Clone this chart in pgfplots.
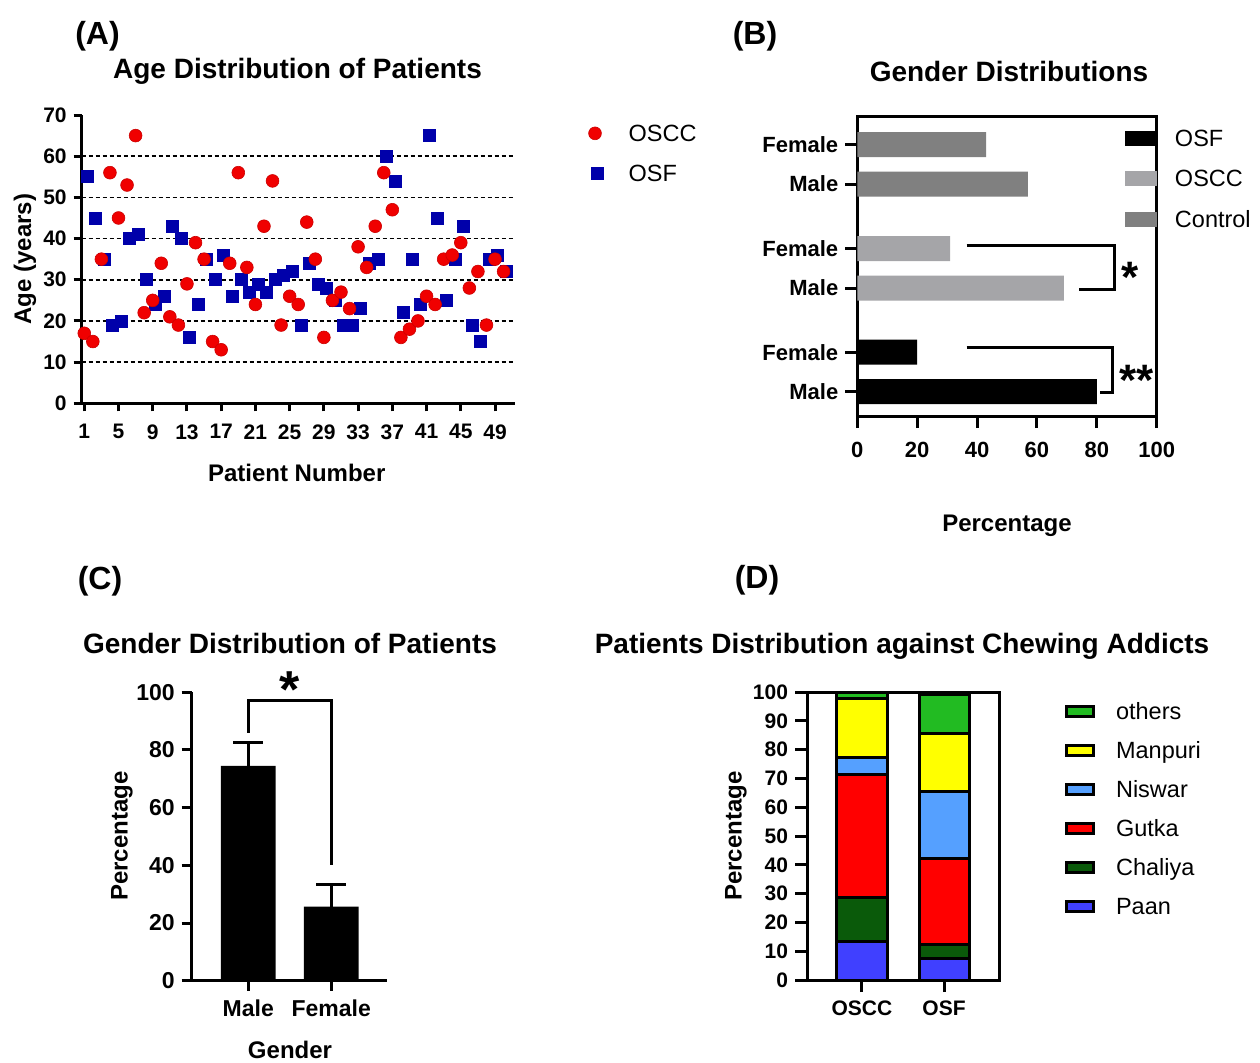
\documentclass[border=0pt]{standalone}
\usepackage{fontspec}
\setmainfont{Liberation Sans}
\usepackage{pgfplots}
\pgfplotsset{compat=1.18}

\definecolor{oscred}{RGB}{240,0,0}
\definecolor{osfblue}{RGB}{0,0,170}
\definecolor{gLight}{RGB}{165,165,168}
\definecolor{gDark}{RGB}{128,128,128}
\definecolor{paan}{RGB}{64,64,255}
\definecolor{chaliya}{RGB}{10,90,10}
\definecolor{gutka}{RGB}{255,0,0}
\definecolor{niswar}{RGB}{85,160,255}
\definecolor{manpuri}{RGB}{255,255,0}
\definecolor{others}{RGB}{34,187,34}

\newcommand{\tfont}{\fontsize{14}{16}\selectfont\bfseries}
\newcommand{\lfont}{\fontsize{12}{14}\selectfont\bfseries}
\newcommand{\pfont}{\fontsize{16}{18}\selectfont\bfseries}
\newcommand{\legfont}{\fontsize{11.75}{14}\selectfont}

\pgfplotsset{
  myaxis/.style={
    scale only axis, anchor=south west, clip=false,
    axis line style={line width=1.5pt, black},
    tick style={line width=1.5pt, black},
    tick align=outside,
    major tick length=5pt,
    minor tick num=0,
    /pgf/number format/assume math mode=true,
    tick label style={font=\fontsize{11}{13}\selectfont\bfseries, text=black},
    legend cell align=left,
  },
  myleg/.style={
    legend style={draw=none, fill=none, inner sep=0pt, outer sep=0pt,
      font=\legfont, row sep=#1,
      nodes={inner sep=0pt, text height=8.6pt, text depth=0.5pt, anchor=west}},
  }
}

\begin{document}
\begin{tikzpicture}
\useasboundingbox (0,0) rectangle (630pt,-531pt);

% ---------------- Panel A ----------------
\begin{axis}[myaxis, at={(40.85pt,-201.65pt)}, width=216.5pt, height=144.15pt,
  xmin=0.7, xmax=51.3, ymin=0, ymax=70,
  axis lines*=left,
  xtick={1,5,...,49}, ytick={0,10,...,70},
  major tick length=4pt,
  tick label style={font=\fontsize{10.5}{12}\selectfont\bfseries},
  xticklabel style={yshift=-3pt},
  extra y ticks={10,20,...,60}, extra y tick labels={},
  extra y tick style={ymajorgrids=true, major tick length=0pt,
     grid style={black, line width=0.8pt, dash pattern=on 2pt off 1.5pt}},
  myleg=10.9pt,
  legend style={at={(axis description cs:1.1707,0.968)}, anchor=north west, column sep=12.5pt},
  legend image code/.code={\draw[#1] plot coordinates {(3.2pt,0pt)};},
  reverse legend,
]
\addplot[only marks, mark=square*, mark size=3pt, xshift=1.3pt,
  mark options={fill=osfblue, draw=osfblue, line width=0.3pt}] coordinates {
(1,55)(2,45)(3,35)(4,19)(5,20)(6,40)(7,41)(8,30)(9,24)(10,26)(11,43)(12,40)(13,16)(14,24)(15,35)(16,30)(17,36)(18,26)(19,30)(20,27)(21,29)(22,27)(23,30)(24,31)(25,32)(26,19)(27,34)(28,29)(29,28)(30,25)(31,19)(32,19)(33,23)(34,34)(35,35)(36,60)(37,54)(38,22)(39,35)(40,24)(41,65)(42,45)(43,25)(44,35)(45,43)(46,19)(47,15)(48,35)(49,36)(50,32)};
\addlegendentry{OSF}
\addplot[only marks, mark=*, mark size=3.2pt,
  mark options={fill=oscred, draw=red!80!black, line width=0.3pt}] coordinates {
(1,17)(2,15)(3,35)(4,56)(5,45)(6,53)(7,65)(8,22)(9,25)(10,34)(11,21)(12,19)(13,29)(14,39)(15,35)(16,15)(17,13)(18,34)(19,56)(20,33)(21,24)(22,43)(23,54)(24,19)(25,26)(26,24)(27,44)(28,35)(29,16)(30,25)(31,27)(32,23)(33,38)(34,33)(35,43)(36,56)(37,47)(38,16)(39,18)(40,20)(41,26)(42,24)(43,35)(44,36)(45,39)(46,28)(47,32)(48,19)(49,35)(50,32)};
\addlegendentry{OSCC}
\end{axis}

% ---------------- Panel B ----------------
\begin{axis}[myaxis, at={(428.65pt,-208pt)}, width=149.7pt, height=149.65pt,
  xmin=0, xmax=100, ymin=-0.62, ymax=6.98,
  xbar, bar width=0.635,
  xtick={0,20,...,100}, ytick={0,1,2.63,3.63,5.27,6.27},
  yticklabels={Male,Female,Male,Female,Male,Female},
  xtick pos=bottom, ytick pos=left, major tick length=6pt,
  xticklabel style={yshift=-3.5pt},
  myleg=11.25pt,
  legend style={at={(axis description cs:0.894,0.959)}, anchor=north west, column sep=9.15pt},
  legend image code/.code={\fill[#1] (0pt,-3.75pt) rectangle (15.85pt,3.75pt);},
]
\addplot[fill=black, draw=none, bar shift=0pt] coordinates {(80,0) (20,1)};
\addlegendentry{OSF}
\addplot[fill=gLight, draw=none, bar shift=0pt] coordinates {(69,2.63) (31,3.63)};
\addlegendentry{OSCC}
\addplot[fill=gDark, draw=none, bar shift=0pt] coordinates {(57,5.27) (43,6.27)};
\addlegendentry{Control}
\draw[line width=1.5pt] (axis cs:36.5,3.72) -- (axis cs:85.8,3.72) -- (axis cs:85.8,2.6) -- (axis cs:74.2,2.6);
\draw[line width=1.5pt] (axis cs:36.5,1.13) -- (axis cs:85.1,1.13) -- (axis cs:85.1,-0.03) -- (axis cs:81.2,-0.03);
\end{axis}

% ---------------- Panel C ----------------
\begin{axis}[myaxis, at={(95.85pt,-490.35pt)}, width=97.5pt, height=144.2pt,
  xmin=-0.683, xmax=1.67, ymin=0, ymax=100,
  axis lines*=left,
  ybar, bar width=0.66,
  xtick={0,1}, xticklabels={Male,Female}, ytick={0,20,...,100},
  tick label style={font=\fontsize{11.5}{13}\selectfont\bfseries},
  xticklabel style={yshift=-1pt},
]
\addplot[fill=black, draw=none, bar shift=0pt,
  error bars/.cd, y dir=plus, y explicit,
  error bar style={line width=1.5pt, black},
  error mark options={rotate=90, line width=1.5pt, mark size=7.5pt, black}]
  coordinates {(0,74.5) +- (0,8) (1,25.7) +- (0,7.7)};
\draw[line width=1.5pt] (axis cs:0,86) -- (axis cs:0,97) -- (axis cs:1,97) -- (axis cs:1,40);
\end{axis}

% ---------------- Panel D ----------------
\begin{axis}[myaxis, at={(403.5pt,-490pt)}, width=96pt, height=144pt,
  xmin=-0.67, xmax=1.67, ymin=0, ymax=100,
  ybar stacked, bar width=0.61,
  xtick={0,1}, xticklabels={OSCC,OSF}, ytick={0,10,...,100},
  xtick pos=bottom, ytick pos=left, major tick length=6pt,
  tick label style={font=\fontsize{10.5}{12}\selectfont\bfseries},
  xticklabel style={yshift=-1pt},
  reverse legend,
  myleg=10.4pt,
  legend style={at={(axis description cs:1.344,0.963)}, anchor=north west, column sep=10.5pt},
  legend image code/.code={\draw[#1, draw=black, line width=1.5pt] (0.75pt,-2.6pt) rectangle (14.25pt,2.6pt);},
]
\addplot[fill=paan, draw=black, line width=1.5pt] coordinates {(0,13.3) (1,7.5)};
\addlegendentry{Paan}
\addplot[fill=chaliya, draw=black, line width=1.5pt] coordinates {(0,15.4) (1,4.7)};
\addlegendentry{Chaliya}
\addplot[fill=gutka, draw=black, line width=1.5pt] coordinates {(0,42.8) (1,29.9)};
\addlegendentry{Gutka}
\addplot[fill=niswar, draw=black, line width=1.5pt] coordinates {(0,5.9) (1,23.4)};
\addlegendentry{Niswar}
\addplot[fill=manpuri, draw=black, line width=1.5pt] coordinates {(0,20.2) (1,20.0)};
\addlegendentry{Manpuri}
\addplot[fill=others, draw=black, line width=1.5pt] coordinates {(0,2.1) (1,13.6)};
\addlegendentry{others}
\end{axis}

% ---------------- Text ----------------
\node[font=\pfont] at (48.75pt,-18.35pt) {(A)};
\node[font=\pfont] at (377.5pt,-18pt) {(B)};
\node[font=\pfont] at (50pt,-290.5pt) {(C)};
\node[font=\pfont] at (378.5pt,-290pt) {(D)};

\node[font=\tfont, anchor=base] at (148.75pt,-39pt) {Age Distribution of Patients};
\node[font=\tfont, anchor=base] at (504.5pt,-40.5pt) {Gender Distributions};
\node[font=\tfont, anchor=base] at (145pt,-326.5pt) {Gender Distribution of Patients};
\node[font=\tfont, anchor=base] at (451pt,-326.5pt) {Patients Distribution against Chewing Addicts};

\node[font=\lfont, anchor=base] at (148.35pt,-240.5pt) {Patient Number};
\node[font=\lfont, rotate=90] at (12.5pt,-129.5pt) {Age (years)};
\node[font=\lfont] at (503.5pt,-263pt) {Percentage};
\node[font=\lfont, rotate=90] at (61pt,-418pt) {Percentage};
\node[font=\lfont, anchor=base] at (145pt,-529pt) {Gender};
\node[font=\lfont, rotate=90] at (368pt,-418pt) {Percentage};

\node[font=\fontsize{26}{26}\selectfont\bfseries, anchor=north, inner sep=0pt] at (145pt,-335.5pt) {*};
\node[font=\fontsize{22}{22}\selectfont\bfseries, anchor=north, inner sep=0pt] at (565pt,-131pt) {*};
\node[font=\fontsize{22}{22}\selectfont\bfseries, anchor=north, inner sep=0pt] at (568.35pt,-182.5pt) {**};
\end{tikzpicture}
\end{document}
